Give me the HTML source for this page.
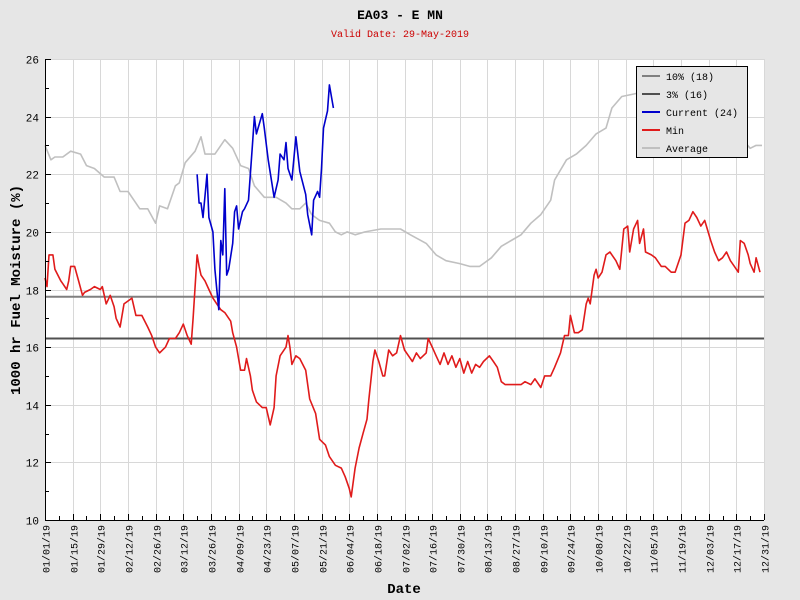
<!DOCTYPE html>
<html><head><meta charset="utf-8">
<style>
body{margin:0;background:#e6e6e6;}
svg{display:block;font-family:"Liberation Mono","DejaVu Sans Mono",monospace;}
</style></head>
<body>
<svg id="chart" width="800" height="600" viewBox="0 0 800 600">
<rect x="0" y="0" width="800" height="600" fill="#e6e6e6"/>
<text x="400" y="19" text-anchor="middle" font-size="13" font-weight="bold" fill="#000">EA03 - E MN</text>
<text x="400" y="37" text-anchor="middle" font-size="10" fill="#cc0000">Valid Date: 29-May-2019</text>
<rect x="45" y="59" width="719" height="461" fill="#ffffff"/>
<g id="grid"></g>
<g id="series"></g>
<g id="axes"></g>
<text x="20" y="290" transform="rotate(-90 20 290)" text-anchor="middle" font-size="14" font-weight="bold">1000 hr Fuel Moisture (%)</text>
<text x="404" y="593" text-anchor="middle" font-size="14" font-weight="bold">Date</text>
<g>
<rect x="636.5" y="66.5" width="111" height="91" fill="#e6e6e6" stroke="#000"/>
<g><line x1="642" y1="76" x2="660" y2="76" stroke="#808080" stroke-width="2"/><text x="666" y="80" font-size="10">10% (18)</text></g>
<g><line x1="642" y1="94" x2="660" y2="94" stroke="#505050" stroke-width="2"/><text x="666" y="98" font-size="10">3% (16)</text></g>
<g><line x1="642" y1="112" x2="660" y2="112" stroke="#0000cc" stroke-width="2"/><text x="666" y="116" font-size="10">Current (24)</text></g>
<g><line x1="642" y1="130" x2="660" y2="130" stroke="#e01b1b" stroke-width="2"/><text x="666" y="134" font-size="10">Min</text></g>
<g><line x1="642" y1="148" x2="660" y2="148" stroke="#c0c0c0" stroke-width="2"/><text x="666" y="152" font-size="10">Average</text></g>
</g>
</svg>
<script>
const xTickLabels=["01/01/19","01/15/19","01/29/19","02/12/19","02/26/19","03/12/19","03/26/19","04/09/19","04/23/19","05/07/19","05/21/19","06/04/19","06/18/19","07/02/19","07/16/19","07/30/19","08/13/19","08/27/19","09/10/19","09/24/19","10/08/19","10/22/19","11/05/19","11/19/19","12/03/19","12/17/19","12/31/19"];
const yTickValues=[10,12,14,16,18,20,22,24,26];
const thresh10=17.75;
const thresh3=16.3;
const avgDays=[0,3,5,9,13,18,21,25,30,35,38,42,46,48,52,56,58,62,66,68,71,76,79,81,86,91,95,99,103,106,111,117,122,125,129,132,135,139,144,147,150,153,157,162,170,177,180,185,193,198,203,210,215,220,226,231,236,241,246,251,256,258,264,269,274,279,284,287,292,299,304,322,337,352,357,360,363];
const avgVals=[23.0,22.5,22.6,22.6,22.8,22.7,22.3,22.2,21.9,21.9,21.4,21.4,21.0,20.8,20.8,20.3,20.9,20.8,21.6,21.7,22.4,22.8,23.3,22.7,22.7,23.2,22.9,22.3,22.2,21.6,21.2,21.2,21.0,20.8,20.8,21.0,20.6,20.4,20.3,20.0,19.9,20.0,19.9,20.0,20.1,20.1,20.1,19.9,19.6,19.2,19.0,18.9,18.8,18.8,19.1,19.5,19.7,19.9,20.3,20.6,21.1,21.8,22.5,22.7,23.0,23.4,23.6,24.3,24.7,24.8,24.8,24.6,24.2,23.3,22.9,23.0,23.0];
const minDays=[0,1,2,4,5,8,9,11,12,13,15,17,19,20,23,25,28,29,31,33,35,36,38,40,42,44,46,49,52,54,56,58,61,63,66,68,70,72,74,75,77,78,79,81,83,85,87,89,91,94,95,97,99,101,102,104,105,107,110,112,114,116,117,119,122,123,124,125,127,129,132,134,137,139,142,144,147,150,152,154,155,157,159,161,163,164,166,167,169,171,172,174,176,178,180,182,184,186,188,190,193,194,196,198,200,202,204,206,208,210,212,214,216,218,220,222,225,227,229,231,233,236,238,241,243,246,248,251,253,256,258,261,263,265,266,268,270,272,274,275,276,278,279,280,282,284,286,289,291,293,295,296,298,300,301,303,304,307,309,312,314,317,319,322,324,326,328,330,332,334,337,339,341,343,345,347,349,351,352,354,356,357,359,360,362];
const minVals=[18.4,18.1,19.2,19.2,18.7,18.3,18.2,18.0,18.3,18.8,18.8,18.3,17.8,17.9,18.0,18.1,18.0,18.1,17.5,17.8,17.4,17.0,16.7,17.5,17.6,17.7,17.1,17.1,16.7,16.4,16.0,15.8,16.0,16.3,16.3,16.5,16.8,16.4,16.1,17.0,19.2,18.8,18.5,18.3,18.0,17.7,17.5,17.3,17.2,16.9,16.5,16.0,15.2,15.2,15.6,15.0,14.5,14.1,13.9,13.9,13.3,13.9,15.0,15.7,16.0,16.4,16.0,15.4,15.7,15.6,15.2,14.2,13.7,12.8,12.6,12.2,11.9,11.8,11.5,11.1,10.8,11.8,12.5,13.0,13.5,14.2,15.5,15.9,15.5,15.0,15.0,15.9,15.7,15.8,16.4,15.9,15.7,15.5,15.8,15.6,15.8,16.3,16.0,15.7,15.4,15.8,15.4,15.7,15.3,15.6,15.1,15.5,15.1,15.4,15.3,15.5,15.7,15.5,15.3,14.8,14.7,14.7,14.7,14.7,14.8,14.7,14.9,14.6,15.0,15.0,15.3,15.8,16.4,16.4,17.1,16.5,16.5,16.6,17.5,17.7,17.5,18.5,18.7,18.4,18.6,19.2,19.3,19.0,18.7,20.1,20.2,19.3,20.1,20.4,19.6,20.1,19.3,19.2,19.1,18.8,18.8,18.6,18.6,19.2,20.3,20.4,20.7,20.5,20.2,20.4,19.7,19.3,19.0,19.1,19.3,19.0,18.8,18.6,19.7,19.6,19.2,18.9,18.6,19.1,18.6];
const curDays=[77,78,79,80,82,83,85,86,87,88,89,90,91,92,93,95,96,97,98,100,101,103,105,106,107,110,111,113,116,118,119,121,122,123,125,127,129,132,133,135,136,138,139,140,141,143,144,146];
const curVals=[22.0,21.0,21.0,20.5,22.0,20.5,20.0,18.7,18.0,17.3,19.7,19.2,21.5,18.5,18.7,19.6,20.7,20.9,20.1,20.7,20.8,21.1,23.0,24.0,23.4,24.1,23.6,22.5,21.2,21.8,22.7,22.5,23.1,22.2,21.8,23.3,22.1,21.3,20.6,19.9,21.1,21.4,21.2,22.2,23.6,24.2,25.1,24.3];

const X0=45,X1=764,Y0=520,Y1=59,DAYS=364,YMIN=10,YMAX=26;
function xs(d){return X0+(d/DAYS)*(X1-X0);}
function ys(v){return Y0-(v-YMIN)/(YMAX-YMIN)*(Y0-Y1);}
const NS="http://www.w3.org/2000/svg";
function mk(tag,attrs,parent){const e=document.createElementNS(NS,tag);for(const k in attrs)e.setAttribute(k,attrs[k]);parent.appendChild(e);return e;}
const grid=document.getElementById('grid'),axes=document.getElementById('axes'),series=document.getElementById('series');
for(let i=0;i<xTickLabels.length;i++){
  const d=i*14, x=Math.round(xs(Math.min(d,DAYS)))+0.5;
  const g=mk('line',{x1:x,y1:Y1,x2:x,y2:Y0,stroke:'#d8d8d8','stroke-width':1},grid);
  
  
  const t=mk('line',{x1:x,y1:Y0,x2:x,y2:Y0-6,stroke:'#000'},axes);
  
  
  const lx=x+4, ly=Y0+5;
  const lb=mk('text',{x:lx,y:ly,transform:`rotate(-90 ${lx} ${ly})`,'text-anchor':'end','font-size':10},axes);
  lb.textContent=xTickLabels[i];
  
  
}
for(let d=7;d<DAYS;d+=14){
  const x=Math.round(xs(d))+0.5;
  const t=mk('line',{x1:x,y1:Y0,x2:x,y2:Y0-4,stroke:'#000'},axes);
  
  
}
yTickValues.forEach(v=>{
  const y=Math.round(ys(v))+0.5;
  const g=mk('line',{x1:X0,y1:y,x2:X1,y2:y,stroke:'#d8d8d8'},grid);
  
  
  const t=mk('line',{x1:X0,y1:y,x2:X0+6,y2:y,stroke:'#000'},axes);
  
  
  const lb=mk('text',{x:X0-6,y:y+4,'text-anchor':'end','font-size':11},axes);
  lb.textContent=v;
  
  
});
for(let v=11;v<26;v+=2){
  const y=Math.round(ys(v))+0.5;
  const t=mk('line',{x1:X0,y1:y,x2:X0+4,y2:y,stroke:'#000'},axes);
  
  
}
const ax=mk('path',{d:`M${X0+0.5},${Y1} V${Y0+0.5} H${X1}`,fill:'none',stroke:'#000'},axes);


function poly(days,vals,color,name){
  const pts=days.map((d,i)=>xs(d).toFixed(1)+','+ys(vals[i]).toFixed(1)).join(' ');
  const p=mk('polyline',{points:pts,fill:'none',stroke:color,'stroke-width':1.6,'stroke-linejoin':'round'},series);
  
  
}
poly(avgDays,avgVals,'#c0c0c0','average-line');
const h1=mk('line',{x1:X0,y1:ys(thresh10),x2:X1,y2:ys(thresh10),stroke:'#808080','stroke-width':2},series);


const h2=mk('line',{x1:X0,y1:ys(thresh3),x2:X1,y2:ys(thresh3),stroke:'#505050','stroke-width':2},series);


poly(minDays,minVals,'#e01b1b','min-line');
poly(curDays,curVals,'#0000cc','current-line');
</script>
</body></html>
